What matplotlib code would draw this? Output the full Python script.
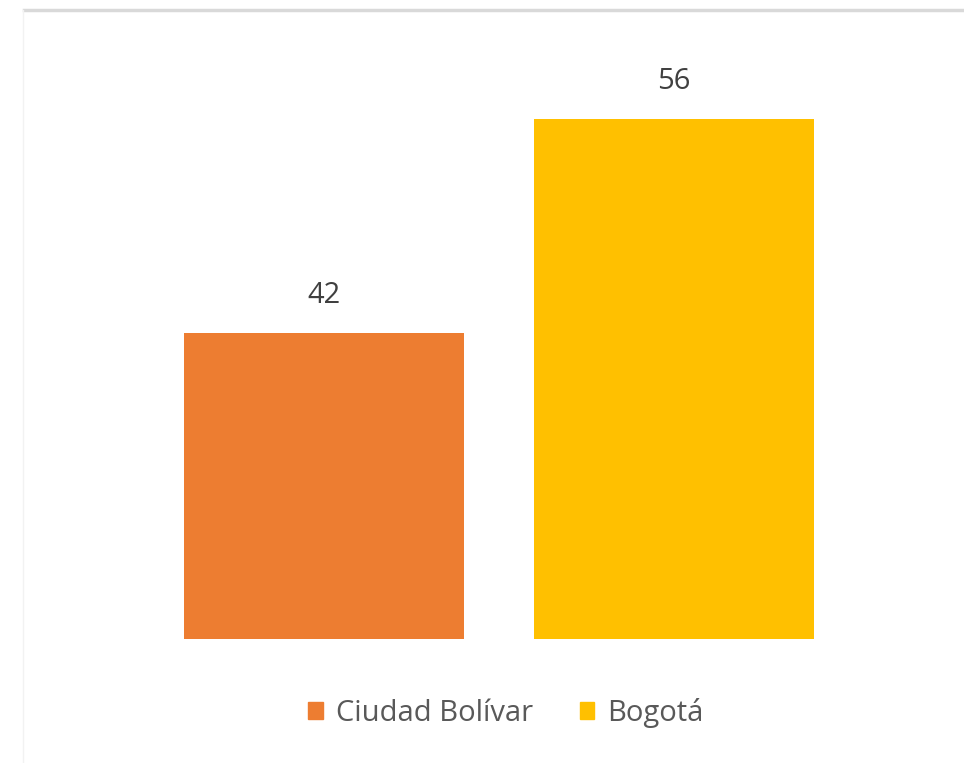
import matplotlib
matplotlib.use('Agg')
import matplotlib.pyplot as plt
from matplotlib.lines import Line2D
from matplotlib.patches import Patch

categories = ['Ciudad Bolívar', 'Bogotá']
values     = [42, 56]
colors     = ['#ED7D31', '#FFC000']

W, H = 964, 763
fig = plt.figure(figsize=(W/100, H/100), dpi=100)
plt.rcParams['font.family'] = ['Open Sans', 'DejaVu Sans']

# axes placed in pixel terms
ax = fig.add_axes([149/W, 1-639/H, 700/W, (639-40)/H])
ax.bar(range(len(values)), values, width=0.8, color=colors)
ax.set_xlim(-0.5, 1.5)
ax.set_ylim(22, 61.2)
ax.axis('off')

for i, v in enumerate(values):
    ax.annotate(str(v), (i, v), xytext=(0, 27), textcoords='offset points',
                ha='center', va='center', fontsize=21, color='#404040')

handles = [Patch(color=c, label=l) for c, l in zip(colors, categories)]
fig.legend(handles=handles, loc='center', bbox_to_anchor=(506/W, 1-713/H),
           ncol=2, frameon=False, fontsize=21, labelcolor='#595959',
           handlelength=0.5, handleheight=0.5, handletextpad=0.45,
           columnspacing=1.6)

# chart frame edges
fig.add_artist(Line2D([24/W, 963/W], [1-10/H, 1-10/H], color='#d9d9d9', lw=2.5))
fig.add_artist(Line2D([23/W, 23/W], [0, 1-10/H], color='#f2f2f2', lw=1))

fig.savefig('out.png', dpi=100)
